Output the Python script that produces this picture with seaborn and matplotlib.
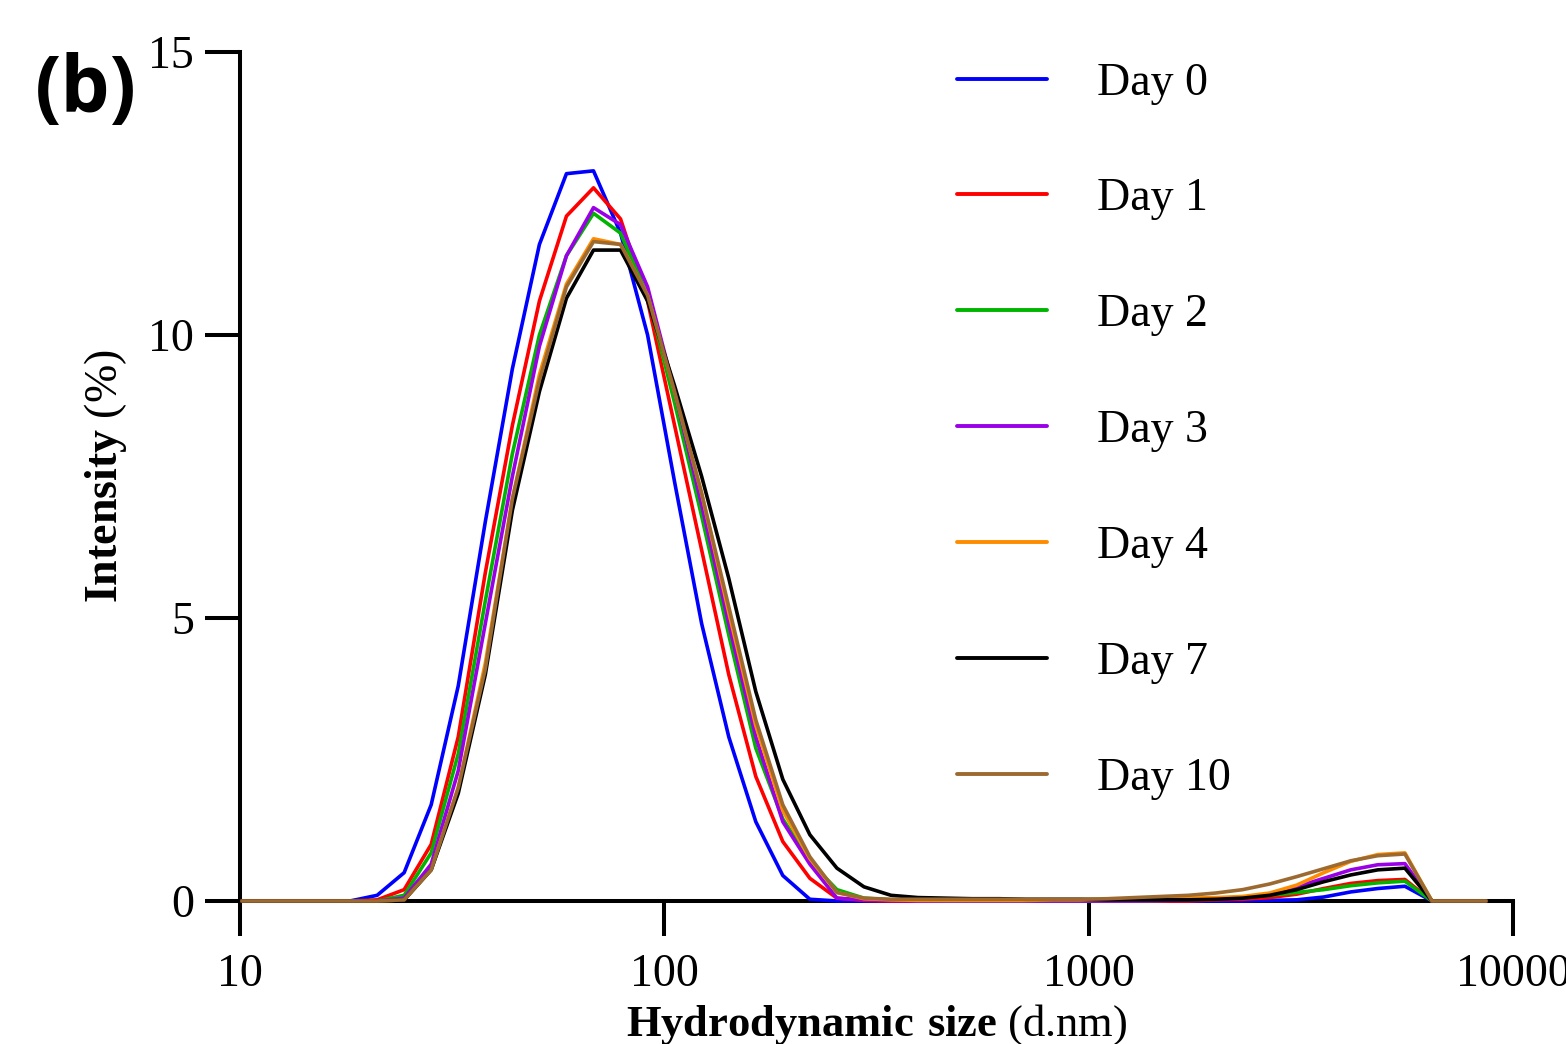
import numpy as np
import pandas as pd
import matplotlib
matplotlib.use('Agg')
import matplotlib.pyplot as plt
import seaborn as sns

# DLS size bins (d.nm)
sizes = [10.10, 11.70, 13.54, 15.69, 18.17, 21.04, 24.36, 28.21, 32.67, 37.84,
         43.82, 50.75, 58.77, 68.06, 78.82, 91.28, 105.7, 122.4, 141.8, 164.2,
         190.1, 220.2, 255.0, 295.3, 342.0, 396.1, 458.7, 531.2, 615.1, 712.4,
         825.0, 955.4, 1106, 1281, 1484, 1718, 1990, 2305, 2669, 3091,
         3580, 4145, 4801, 5560, 6439, 7456, 8635]

day0 = [0, 0, 0, 0, 0, 0.1, 0.5, 1.7, 3.8, 6.7,
        9.4, 11.6, 12.85, 12.9, 11.8, 10.0, 7.4, 4.9, 2.9, 1.4,
        0.45, 0.03, 0, 0, 0, 0, 0, 0, 0, 0,
        0, 0, 0, 0, 0, 0, 0, 0, 0.01, 0.02,
        0.07, 0.16, 0.22, 0.26, 0, 0, 0]
day1 = [0, 0, 0, 0, 0, 0.02, 0.2, 1.0, 2.9, 5.8,
        8.4, 10.6, 12.1, 12.6, 12.05, 10.6, 8.4, 6.2, 4.0, 2.2,
        1.05, 0.4, 0.05, 0.01, 0, 0, 0, 0, 0, 0,
        0, 0, 0, 0, 0, 0, 0.02, 0.03, 0.06, 0.12,
        0.22, 0.31, 0.36, 0.38, 0, 0, 0]
day2 = [0, 0, 0, 0, 0, 0, 0.1, 0.85, 2.6, 5.3,
        7.9, 10.0, 11.4, 12.15, 11.8, 10.7, 8.8, 6.8, 4.7, 2.7,
        1.45, 0.7, 0.2, 0.05, 0.02, 0.01, 0, 0, 0, 0,
        0, 0, 0, 0, 0.01, 0.02, 0.04, 0.06, 0.1, 0.15,
        0.2, 0.27, 0.32, 0.35, 0, 0, 0]
day3 = [0, 0, 0, 0, 0, 0, 0.05, 0.65, 2.3, 4.9,
        7.5, 9.8, 11.4, 12.25, 11.95, 10.85, 9.0, 7.0, 4.9, 2.9,
        1.4, 0.65, 0.05, 0.02, 0.01, 0, 0, 0, 0, 0,
        0, 0, 0, 0, 0.01, 0.02, 0.03, 0.06, 0.12, 0.25,
        0.4, 0.55, 0.64, 0.66, 0, 0, 0]
day4 = [0, 0, 0, 0, 0, 0, 0.02, 0.55, 2.0, 4.2,
        7.1, 9.3, 10.9, 11.7, 11.6, 10.7, 9.0, 7.2, 5.1, 3.1,
        1.6, 0.75, 0.15, 0.04, 0.02, 0.01, 0.01, 0.01, 0.01, 0.01,
        0.02, 0.02, 0.03, 0.03, 0.04, 0.05, 0.06, 0.08, 0.14, 0.28,
        0.5, 0.7, 0.82, 0.85, 0, 0, 0]
day7 = [0, 0, 0, 0, 0, 0, 0.02, 0.55, 1.9, 4.0,
        6.9, 9.0, 10.65, 11.5, 11.5, 10.6, 9.1, 7.5, 5.7, 3.7,
        2.15, 1.17, 0.58, 0.25, 0.1, 0.06, 0.05, 0.04, 0.04, 0.03,
        0.03, 0.03, 0.02, 0.02, 0.02, 0.02, 0.03, 0.05, 0.1, 0.2,
        0.34, 0.46, 0.55, 0.58, 0, 0, 0]
day10 = [0, 0, 0, 0, 0, 0, 0.02, 0.55, 2.0, 4.1,
         7.1, 9.2, 10.85, 11.65, 11.6, 10.7, 9.0, 7.2, 5.2, 3.2,
         1.7, 0.78, 0.15, 0.05, 0.03, 0.03, 0.03, 0.03, 0.03, 0.03,
         0.03, 0.03, 0.04, 0.06, 0.08, 0.1, 0.14, 0.2, 0.3, 0.43,
         0.57, 0.71, 0.8, 0.83, 0, 0, 0]

labels = ['Day 0', 'Day 1', 'Day 2', 'Day 3', 'Day 4', 'Day 7', 'Day 10']
series = [day0, day1, day2, day3, day4, day7, day10]
colors = ['#0000FF', '#FF0000', '#00B400', '#9A00E6', '#FF8C00', '#000000', '#9C6A30']

frames = []
for lab, vals in zip(labels, series):
    frames.append(pd.DataFrame({'size': sizes, 'intensity': vals, 'day': lab}))
df = pd.concat(frames, ignore_index=True)

sns.set_style('ticks')
plt.rcParams['font.family'] = ['Liberation Serif', 'DejaVu Serif']
plt.rcParams['mathtext.fontset'] = 'custom'
plt.rcParams['mathtext.rm'] = 'Liberation Serif'
plt.rcParams['mathtext.bf'] = 'Liberation Serif:bold'
for key in ['text.color', 'axes.labelcolor', 'xtick.color', 'ytick.color', 'axes.edgecolor']:
    plt.rcParams[key] = 'black'

fig = plt.figure(figsize=(15.66, 10.44), dpi=100)
ax = fig.add_axes([0.1533, 0.137, 0.8129, 0.8132])

for lab, col in zip(labels, colors):
    sub = df[df['day'] == lab]
    sns.lineplot(data=sub, x='size', y='intensity', color=col, linewidth=2.6,
                 label=lab, ax=ax, clip_on=False, zorder=5)

ax.set_xscale('log')
ax.set_xlim(10, 10000)
ax.set_ylim(0, 15)
ax.set_xticks([10, 100, 1000, 10000])
ax.set_xticklabels(['10', '100', '1000', '10000'])
ax.xaxis.set_minor_locator(matplotlib.ticker.NullLocator())
ax.set_yticks([0, 5, 10, 15])
ax.set_yticklabels(['0', '5', '10', '15'])

for s in ['top', 'right']:
    ax.spines[s].set_visible(False)
for s in ['left', 'bottom']:
    ax.spines[s].set_linewidth(2.9)
ax.tick_params(axis='both', length=25, width=2.9, labelsize=33, color='black')
ax.tick_params(axis='y', pad=8)
ax.tick_params(axis='x', pad=13)

ax.set_xlabel(r'$\mathbf{Hydrodynamic\ size}$ (d.nm)', fontsize=32, labelpad=4)
ax.set_ylabel(r'$\mathbf{Intensity}$ (%)', fontsize=33, labelpad=14)

ax.legend(loc='upper left', bbox_to_anchor=(0.585, 0.98), bbox_transform=fig.transFigure,
          frameon=False, fontsize=33, handlelength=1.95, handletextpad=1.1,
          labelspacing=1.6)
leg = ax.get_legend()
for ln in leg.get_lines():
    ln.set_linewidth(2.8)

fig.text(0.022, 0.912, '(b)', fontsize=56, fontweight='bold', family='Open Sans',
         ha='left', va='center')

fig.savefig('out.png', dpi=100)
